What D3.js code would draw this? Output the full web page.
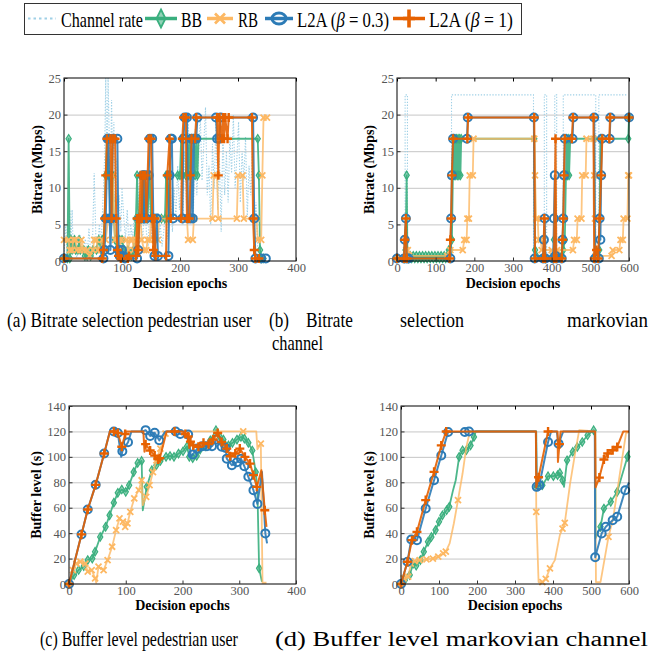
<!DOCTYPE html>
<html>
<head>
<meta charset="utf-8">
<script src="https://cdn.jsdelivr.net/npm/d3@7"></script>
<style>
  body { margin: 0; background: #fff; }
  svg { display: block; }
  text { font-family: "Liberation Serif", "DejaVu Serif", serif; }
</style>
</head>
<body>
<svg id="fig" width="652" height="658"></svg>
<script>
// 凡例の名前
var seriesNames = ['Channel rate', 'BB', 'RB', 'L2A (β = 0.3)', 'L2A (β = 1)'];

// 軸の目盛り
var bitrateTicks = [0, 5, 10, 15, 20, 25];
var bufferTicks = [0, 20, 40, 60, 80, 100, 120, 140];
var pedEpochTicks = [0, 100, 200, 300, 400];
var markovEpochTicks = [0, 100, 200, 300, 400, 500, 600];

// (a) 歩行者ユーザのビットレート  [epoch, Mbps]
var pedChannel = [[0,0.5],[3,5],[5,1],[8,3],[10,7],[12,2],[14,7],[16,1],[19,3],[22,0.5],[25,2],[28,3.5],[31,1],[34,2],[37,3],[40,0.8],[43,4.5],[46,1],[49,2],[52,12],[55,3],[58,1.5],[61,5],[64,2],[67,8],[70,14],[72,25],[74,12],[76,25],[78,17],[80,9],[82,22],[84,12],[86,19],[88,8],[90,14],[92,5],[95,9],[98,4],[100,10],[103,6],[106,3],[109,7],[112,2],[115,5],[118,3],[121,6],[124,2],[127,4],[130,12],[133,5],[136,3],[139,9],[142,4],[145,2],[148,8],[151,3],[154,5],[157,2],[160,6],[163,3],[166,5],[169,2],[172,4],[175,7],[178,3],[181,6],[184,9],[187,4],[190,10],[193,6],[196,13],[199,7],[202,11],[205,5],[208,15],[211,8],[214,20],[217,10],[220,13],[223,6],[226,18],[229,9],[232,14],[235,20],[238,11],[241,16],[244,21],[247,9],[250,13],[253,5],[256,16],[259,10],[262,19],[265,7],[268,14],[271,4],[274,18],[277,9],[280,15],[283,8],[286,17],[289,12],[292,20],[295,10],[298,14],[301,19],[304,8],[307,15],[310,11],[313,17],[316,6],[319,13],[322,9],[325,16],[328,4],[331,8],[334,2],[336,0.5]];
var pedRateBB = [[0,0.35],[6,0.35],[8,16.7],[10,0.35],[12,2.9],[14,1.5],[18,2.9],[20,1.5],[24,1.5],[26,2.9],[28,1.5],[34,1.5],[36,0.7],[40,0.7],[42,1.5],[46,0.7],[50,1.5],[56,1.5],[60,2.9],[64,1.5],[66,2.9],[68,2.9],[70,5.8],[72,11.7],[74,16.7],[76,11.7],[78,11.7],[80,5.8],[82,11.7],[84,11.7],[86,5.8],[88,2.9],[92,1.5],[96,2.9],[100,2.9],[104,1.5],[110,1.5],[116,0.7],[120,1.5],[124,5.8],[126,11.7],[128,5.8],[134,5.8],[136,11.7],[138,5.8],[144,5.8],[148,11.7],[150,5.8],[162,5.8],[168,5.8],[174,5.8],[176,11.7],[178,11.7],[180,5.8],[182,11.7],[196,11.7],[200,11.7],[202,16.7],[204,11.7],[210,11.7],[212,16.7],[214,11.7],[216,16.7],[218,11.7],[220,16.7],[224,16.7],[226,11.7],[228,16.7],[230,11.7],[232,16.7],[334,16.7],[336,11.7],[338,1.5],[340,0.35],[344,0.35]];
var pedRateRB = [[0,2.9],[8,2.9],[10,1.5],[14,1.5],[16,2.9],[20,2.9],[22,1.5],[28,1.5],[30,2.9],[34,1.5],[40,1.5],[44,0.7],[50,1.5],[52,2.9],[56,2.9],[58,1.5],[64,1.5],[66,2.9],[72,2.9],[76,5.8],[82,5.8],[84,11.7],[86,5.8],[88,2.9],[94,2.9],[96,1.5],[98,2.9],[108,2.9],[110,1.5],[114,2.9],[118,2.9],[120,1.5],[124,2.9],[128,5.8],[132,5.8],[134,2.9],[138,1.5],[142,1.5],[144,2.9],[148,2.9],[150,5.8],[154,5.8],[156,2.9],[162,2.9],[164,5.8],[212,5.8],[214,2.9],[222,2.9],[224,5.8],[256,5.8],[258,11.7],[264,11.7],[266,5.8],[298,5.8],[300,11.7],[308,11.7],[310,5.8],[332,5.8],[334,2.9],[340,2.9],[342,11.7],[344,19.6],[350,19.6]];
var pedRateL2A03 = [[0,0.35],[68,0.35],[70,1.5],[72,5.8],[75,16.7],[77,16.7],[79,5.8],[80,1.5],[82,5.8],[84,16.7],[92,16.7],[94,1.5],[96,0.7],[100,1.5],[102,0.7],[105,0.35],[126,0.35],[128,1.5],[130,5.8],[134,5.8],[136,11.7],[138,5.8],[140,11.7],[142,5.8],[146,11.7],[148,16.7],[152,16.7],[154,5.8],[156,0.7],[160,5.8],[162,0.7],[180,0.7],[182,11.7],[184,16.7],[186,16.7],[188,5.8],[204,5.8],[206,16.7],[208,19.6],[212,19.6],[214,5.8],[218,5.8],[220,16.7],[222,5.8],[224,16.7],[228,16.7],[230,19.6],[262,19.6],[264,16.7],[268,16.7],[270,19.6],[326,19.6],[328,5.8],[330,0.35],[340,0.35],[348,0.35]];
var pedRateL2A1 = [[0,0.35],[66,0.35],[68,1.5],[70,5.8],[72,11.7],[74,16.7],[80,16.7],[82,5.8],[84,16.7],[88,16.7],[90,5.8],[92,1.5],[94,0.7],[98,0.35],[110,0.35],[112,0.7],[124,0.7],[126,5.8],[128,1.5],[130,5.8],[132,11.7],[134,5.8],[136,11.7],[140,11.7],[142,5.8],[146,16.7],[150,16.7],[152,5.8],[154,1.5],[156,5.8],[158,0.7],[176,0.7],[178,11.7],[182,16.7],[184,5.8],[202,5.8],[204,16.7],[206,19.6],[210,19.6],[212,5.8],[216,5.8],[218,11.7],[220,16.7],[226,16.7],[228,19.6],[264,19.6],[266,11.7],[268,19.6],[272,16.7],[274,19.6],[276,16.7],[278,19.6],[282,16.7],[284,19.6],[324,19.6],[326,5.8],[328,1.5],[330,0.35],[336,0.35]];

// (b) マルコフチャネルのビットレート
var markovChannel = [[0,0.5],[21,0.5],[21,22.7],[27,22.7],[27,0.5],[141,0.5],[141,22.7],[353,22.7],[353,0.5],[381,0.5],[381,22.7],[387,22.7],[387,0.5],[408,0.5],[408,22.7],[413,22.7],[413,0.5],[430,0.5],[430,22.7],[514,22.7],[514,0.5],[522,0.5],[522,22.7],[597,22.7]];
var markovRateBB = [[0,0.35],[20,0.35],[22,1.5],[25,11.7],[27,0.7],[30,0.35],[34,0.7],[38,0.35],[42,0.7],[46,0.35],[50,0.7],[54,0.35],[58,0.7],[62,0.35],[66,0.7],[70,0.35],[74,0.7],[78,0.35],[82,0.7],[86,0.35],[90,0.7],[94,0.35],[98,0.7],[102,0.35],[106,0.7],[110,0.35],[114,0.7],[118,0.35],[122,0.7],[126,0.35],[130,0.7],[134,1.5],[138,1.5],[142,2.9],[146,16.7],[148,11.7],[150,16.7],[152,11.7],[154,16.7],[156,11.7],[158,16.7],[160,11.7],[162,16.7],[164,11.7],[166,16.7],[355,16.7],[357,1.5],[360,0.7],[380,0.7],[384,0.35],[404,0.35],[406,2.9],[409,0.7],[426,0.7],[430,1.5],[434,2.9],[437,11.7],[439,16.7],[441,11.7],[443,16.7],[445,11.7],[448,16.7],[510,16.7],[512,0.7],[520,0.7],[523,1.5],[526,16.7],[598,16.7],[600,19.6]];
var markovRateRB = [[0,0.35],[20,0.35],[24,1.5],[28,1.5],[31,0.7],[130,0.7],[138,1.5],[170,1.5],[174,2.9],[180,2.9],[182,5.8],[186,5.8],[188,11.7],[196,11.7],[198,16.7],[355,16.7],[357,11.7],[360,5.8],[364,5.8],[366,2.9],[372,2.9],[374,1.5],[400,1.5],[404,0.7],[410,0.7],[414,1.5],[455,1.5],[458,2.9],[465,2.9],[467,5.8],[477,5.8],[479,11.7],[488,11.7],[490,16.7],[508,16.7],[510,11.7],[512,5.8],[514,0.7],[555,0.7],[558,1.5],[575,1.5],[578,2.9],[584,2.9],[586,5.8],[596,5.8],[598,11.7],[600,11.7]];
var markovRateL2A03 = [[0,0.35],[18,0.35],[20,2.9],[23,5.8],[25,0.35],[30,0.35],[138,0.35],[140,5.8],[142,11.7],[145,16.7],[181,16.7],[183,19.6],[354,19.6],[356,0.35],[378,0.35],[380,2.9],[382,5.8],[384,0.35],[404,0.35],[406,5.8],[408,11.7],[410,0.7],[412,0.35],[426,0.35],[428,2.9],[430,5.8],[432,11.7],[434,16.7],[454,16.7],[456,19.6],[510,19.6],[512,0.35],[522,0.35],[524,5.8],[526,2.9],[528,11.7],[530,16.7],[550,16.7],[552,19.6],[600,19.6]];
var markovRateL2A1 = [[0,0.35],[18,0.35],[20,2.9],[23,5.8],[25,0.35],[136,0.35],[138,2.9],[140,5.8],[142,11.7],[145,16.7],[182,16.7],[184,19.6],[355,19.6],[357,0.35],[378,0.35],[381,5.8],[383,0.35],[406,0.35],[410,16.7],[412,0.35],[426,0.35],[428,2.9],[430,5.8],[432,11.7],[434,16.7],[452,16.7],[455,19.6],[508,19.6],[510,0.35],[516,1.5],[520,0.35],[524,5.8],[528,11.7],[531,16.7],[549,16.7],[551,19.6],[600,19.6]];

// (c) 歩行者ユーザのバッファ  [epoch, s, marker(0=なし)]
var pedBufferBB = [[0,0],[9,7],[17,11],[26,14],[33,18.8],[41,20],[46,25.4],[55,37],[64.5,45],[71.5,54],[79,64],[86,71.7],[93,74.3],[100,72.5],[106,77.7],[114,88],[121,95.2],[128,96.8],[130,58,0],[137,76.4],[146,89.5],[154,93.4],[161,96.8],[171,100],[178,100.7],[185,100],[193,102.6],[201,104.4],[208,108.3],[212,100],[218,99],[225,100.7],[231,105.7],[240,108.3],[249,113],[259,121],[266,115.7],[272,113.6],[281,109],[288,111],[296,113.6],[303,115.7],[309,114.4],[316,111],[323,105],[329,88],[332,73.8,0],[335,12.3],[340,1.8,0]];
var pedBufferRB = [[0,0],[7,11],[13,16],[20,17.5],[29,16],[33,9.7],[40,11],[46,4.4],[48,1,0],[52,13.6],[61,11],[68,18.8],[76,29.3],[83,42.4],[89,51.6],[95,49],[99,45],[103,47.6],[108,56.8],[115,67.3],[123,73.8],[128,81.6],[130,62,0],[136,68.6],[142,77.7],[148,88],[154,97.3],[161,106.5],[170,118.3],[172,120,0],[307,120],[330,120,0],[332,106,0],[338,110.4],[341,1,0],[348,1,0]];
var pedBufferL2A03 = [[0,0],[22,39],[33,58.6],[47,78],[62,102.6],[72,120,0],[79,120],[86,118.8],[92,100,0],[94,104.4],[104,111.5],[110,120,0],[130,120,0],[135,121],[143,116.5],[151,119],[159,113],[170,120,0],[188,120],[196,118],[210,117.5],[215,100,0],[218,101.8],[226,106.5],[235,108.3],[243,108.3],[252,108.3],[260,113.6],[269,108],[276,107],[278,98.6],[287,93.4],[296,95.8],[303,98.6],[309,92.6],[316,84.3],[325,73.8],[332,63],[340,88,0],[346,39.8],[349,32,0]];
var pedBufferL2A1 = [[0,0],[22,39],[33,58.6],[47,78],[62,102.6],[72,120,0],[79,120],[86,118.8],[93,108],[99,118],[101,120,0],[131,120,0],[133,104,0],[135,110],[143,105],[151,101],[157,98],[160,99],[172,120,0],[186,120],[200,120,0],[205,118],[210,116],[212,107,0],[214,112],[219,109],[228,108],[237,111],[246,110],[254,113.6],[262,118.8],[269,111.7],[278,106.5],[284,100.5],[293,102.6],[301,106.5],[310,100],[319,94.7],[325,85.6],[331,76.4],[339,89.5,0],[345,58],[348,45,0]];

// (d) マルコフチャネルのバッファ
var markovBufferBB = [[0,0],[10,3],[23,7],[32,16],[40,14.4],[51,18.8],[60,25.4],[71,33.2],[80,37],[91,42.4],[100,49],[109,54],[120,58],[127,60.7],[137,73.8,0],[144,81.6,0],[153,100],[162,105.2],[172,105.2],[183,109],[192,115.7],[197,120,0],[356,120,0],[357,76.4],[372,77.7],[387,84.8],[401,84.8],[412,85.6],[418,87.4],[425,81.6],[429,76.4,0],[437,97.3],[452,104],[464,107.8],[477,111.7],[491,117],[507,121],[511,120,0],[512,36,0],[525,45],[534,59.4],[552,64.6],[569,72.5],[596,100],[600,105,0]];
var markovBufferRB = [[0,0],[7,4.4],[19,5.8],[26,16],[36,18],[49,18.8],[67,19.4],[84,20],[98,21.5],[111,24],[118,25.4],[128,32,0],[139,47.6,0],[150,66],[162,86.9,0],[172,107.8,0],[181,119.6,0],[355,120,0],[356,56.8],[362,1.5,0],[372,1.5],[381,4],[392,12.3],[405,18.8,0],[418,38.5,0],[425,43.6],[431,48],[445,79,0],[458,102.6,0],[469,121,0],[511,120,0],[513,1.5,0],[525,1.5,0],[546,37],[559,52.9,0],[576,86.9,0],[592,118.3,0],[600,120,0]];
var markovBufferL2A03 = [[0,0],[17,17.5],[27,35],[42,34.5],[65,59.4],[87,81.6],[106,101],[124,119.6],[168,119.6],[179,120],[355,120,0],[357,76.4],[364,77.7],[387,111.7],[395,120,0],[410,120,0],[414.6,110.4],[427,120,0],[510,120,0],[511,21],[528,39.8],[539,45],[557,50.2],[569,52.9],[590,73.8],[600,79.8,0]];
var markovBufferL2A1 = [[0,0],[17,17.5],[29,34.5],[42,41],[65,66],[87,88.2],[106,109],[119,120],[355,120,0],[356,76,0],[362,84],[387,120],[412,120,0],[413,96,0],[417,110],[420,120,0],[511,120,0],[512,76,0],[522,83.7],[534,97.9],[544,102.6],[557,105.2],[569,107.8],[585,120,0],[600,120,0]];

var colors = ['#9fd0e6', '#3aaf7e', '#fdb863', '#2c7bb6', '#e66101'];
var serif = '"Liberation Serif", "DejaVu Serif", serif';

// マーカーの形
var markerPath = [
  null,
  'M0,-4.2L2.6,0L0,4.2L-2.6,0Z',
  'M-3,-3L3,3M-3,3L3,-3',
  'M4,0A4,4 0 1,1 -4,0A4,4 0 1,1 4,0Z',
  'M-4.5,0H4.5M0,-4.5V4.5'
];
var legendMarkerPath = [
  null,
  'M0,-9L4.5,0L0,9L-4.5,0Z',
  'M-5,-5L5,5M-5,5L5,-5',
  'M7,0A7,5.5 0 1,1 -7,0A7,5.5 0 1,1 7,0Z',
  'M-6,0H6M0,-9V9'
];

var svg = d3.select('#fig');

function styleMarker(sel, i, lw) {
  sel.attr('stroke', colors[i]).attr('stroke-linejoin', 'miter');
  if (i === 1) sel.attr('fill', colors[i]).attr('fill-opacity', 0.55).attr('stroke-width', lw * 0.6);
  else if (i === 2) sel.attr('fill', 'none').attr('stroke-width', lw * 0.9);
  else if (i === 3) sel.attr('fill', 'none').attr('stroke-width', lw);
  else sel.attr('fill', 'none').attr('stroke-width', lw * 1.2);
}

// 文字の高さはそのまま、横幅だけを指定の幅に合わせる
function fitWidth(sel, x, y, w) {
  sel.each(function() {
    var n = this.getComputedTextLength();
    d3.select(this).attr('transform', 'translate(' + x + ',' + y + ') scale(' + (w / n) + ',1)');
  });
}

var panels = [
  { left: 64, top: 78, w: 232, h: 183, xMax: 400, xTicks: pedEpochTicks, yMax: 25, yTicks: bitrateTicks,
    ylabel: 'Bitrate (Mbps)', ylabelX: 42, xlabelY: 288, channel: pedChannel,
    series: [pedRateBB, pedRateRB, pedRateL2A03, pedRateL2A1] },
  { left: 397, top: 78, w: 232, h: 183, xMax: 600, xTicks: markovEpochTicks, yMax: 25, yTicks: bitrateTicks,
    ylabel: 'Bitrate (Mbps)', ylabelX: 374, xlabelY: 288, channel: markovChannel,
    series: [markovRateBB, markovRateRB, markovRateL2A03, markovRateL2A1] },
  { left: 69, top: 406, w: 227, h: 178, xMax: 400, xTicks: pedEpochTicks, yMax: 140, yTicks: bufferTicks,
    ylabel: 'Buffer level (s)', ylabelX: 41, xlabelY: 610, channel: null,
    series: [pedBufferBB, pedBufferRB, pedBufferL2A03, pedBufferL2A1] },
  { left: 401, top: 406, w: 228, h: 178, xMax: 600, xTicks: markovEpochTicks, yMax: 140, yTicks: bufferTicks,
    ylabel: 'Buffer level (s)', ylabelX: 374, xlabelY: 610, channel: null,
    series: [markovBufferBB, markovBufferRB, markovBufferL2A03, markovBufferL2A1] }
];

panels.forEach(function(p) {
  var x = d3.scaleLinear().domain([0, p.xMax]).range([p.left, p.left + p.w]);
  var y = d3.scaleLinear().domain([0, p.yMax]).range([p.top + p.h, p.top]);
  var g = svg.append('g');

  // 横のグリッド線
  g.append('g')
    .attr('transform', 'translate(' + p.left + ',0)')
    .call(d3.axisLeft(y).tickValues(p.yTicks.slice(1, -1)).tickSize(-p.w).tickFormat(''))
    .call(function(a) { a.select('.domain').remove(); })
    .selectAll('line').attr('stroke', '#c6c6c6').attr('stroke-width', 1);

  var line = d3.line().x(function(d) { return x(d[0]); }).y(function(d) { return y(d[1]); });

  // チャネルレート（点線）
  if (p.channel) {
    g.append('path').datum(p.channel)
      .attr('d', line).attr('fill', 'none')
      .attr('stroke', colors[0]).attr('stroke-width', 1.1)
      .attr('stroke-dasharray', '1.3,1.6');
  }

  // 各アルゴリズムの線とマーカー
  p.series.forEach(function(data, k) {
    var i = k + 1;
    g.append('path').datum(data)
      .attr('d', line).attr('fill', 'none')
      .attr('stroke', colors[i]).attr('stroke-width', i >= 3 ? 2 : 1.8)
      .attr('stroke-opacity', i === 2 ? 0.8 : 0.9)
      .attr('stroke-linejoin', 'round');
    g.append('g').selectAll('path')
      .data(data.filter(function(d) { return d[2] !== 0; }))
      .enter().append('path')
      .attr('transform', function(d) { return 'translate(' + x(d[0]) + ',' + y(d[1]) + ')'; })
      .attr('d', markerPath[i])
      .call(styleMarker, i, 2);
  });

  // 枠
  g.append('rect')
    .attr('x', p.left).attr('y', p.top).attr('width', p.w).attr('height', p.h)
    .attr('fill', 'none').attr('stroke', '#000').attr('stroke-width', 1);

  // 軸
  var xAxis = g.append('g')
    .attr('transform', 'translate(0,' + (p.top + p.h) + ')')
    .call(d3.axisBottom(x).tickValues(p.xTicks).tickSizeInner(-3.5).tickSizeOuter(0).tickPadding(2));
  g.append('g')
    .attr('transform', 'translate(0,' + p.top + ')')
    .call(d3.axisTop(x).tickValues(p.xTicks).tickSizeInner(-3.5).tickSizeOuter(0).tickFormat(''));
  var yAxis = g.append('g')
    .attr('transform', 'translate(' + p.left + ',0)')
    .call(d3.axisLeft(y).tickValues(p.yTicks).tickSizeInner(-3.5).tickSizeOuter(0).tickPadding(3));
  g.selectAll('.domain').remove();
  [xAxis, yAxis].forEach(function(a) {
    a.selectAll('line').attr('stroke', '#333');
    a.selectAll('text').attr('font-family', serif).attr('font-size', 12.5).attr('fill', '#555');
  });

  // 軸ラベル
  g.append('text')
    .attr('x', p.left + p.w / 2).attr('y', p.xlabelY)
    .attr('text-anchor', 'middle').attr('font-weight', 'bold').attr('font-size', 14)
    .text('Decision epochs');
  g.append('text')
    .attr('transform', 'translate(' + p.ylabelX + ',' + (p.top + p.h / 2) + ') rotate(-90)')
    .attr('text-anchor', 'middle').attr('font-weight', 'bold').attr('font-size', 14)
    .text(p.ylabel);
});

// 凡例
var legend = svg.append('g');
legend.append('rect')
  .attr('x', 24.5).attr('y', 3.5).attr('width', 497).attr('height', 31)
  .attr('fill', '#fff').attr('stroke', '#333').attr('stroke-width', 1);
var legendItems = [
  { x0: 28, x1: 56, tx: 61, tw: 82 },
  { x0: 145, x1: 177, tx: 181, tw: 21 },
  { x0: 207, x1: 233, tx: 238, tw: 20 },
  { x0: 265, x1: 293, tx: 297, tw: 92 },
  { x0: 393, x1: 425, tx: 429, tw: 84 }
];
legendItems.forEach(function(it, i) {
  var ln = legend.append('line')
    .attr('x1', it.x0).attr('x2', it.x1).attr('y1', 18.5).attr('y2', 18.5)
    .attr('stroke', colors[i]).attr('stroke-width', i === 0 ? 2.2 : 3.5);
  if (i === 0) ln.attr('stroke-dasharray', '2.5,3');
  if (legendMarkerPath[i]) {
    legend.append('path')
      .attr('transform', 'translate(' + ((it.x0 + it.x1) / 2) + ',18.5)')
      .attr('d', legendMarkerPath[i])
      .call(styleMarker, i, 3);
  }
  var t = legend.append('text').attr('font-size', 21);
  var name = seriesNames[i];
  var b = name.indexOf('β');
  if (b < 0) t.text(name);
  else {
    t.append('tspan').text(name.slice(0, b));
    t.append('tspan').attr('font-style', 'italic').text('β');
    t.append('tspan').text(name.slice(b + 1));
  }
  t.call(fitWidth, it.tx, 26.5, it.tw);
});

// キャプション（(b) の1行目は両端揃えなので単語ごとに配置）
var captions = [
  { s: '(a) Bitrate selection pedestrian user', x: 7, y: 327, w: 245 },
  { s: '(b)', x: 269, y: 327, w: 20 },
  { s: 'Bitrate', x: 306, y: 327, w: 47 },
  { s: 'selection', x: 400, y: 327, w: 64 },
  { s: 'markovian', x: 567, y: 327, w: 81 },
  { s: 'channel', x: 272, y: 350, w: 51 },
  { s: '(c) Buffer level pedestrian user', x: 40, y: 646, w: 198 },
  { s: '(d) Buffer level markovian channel', x: 275, y: 646, w: 373 }
];
svg.append('g').selectAll('text')
  .data(captions).enter().append('text')
  .attr('font-size', 20)
  .text(function(d) { return d.s; })
  .each(function(d) { d3.select(this).call(fitWidth, d.x, d.y, d.w); });
</script>
</body>
</html>
